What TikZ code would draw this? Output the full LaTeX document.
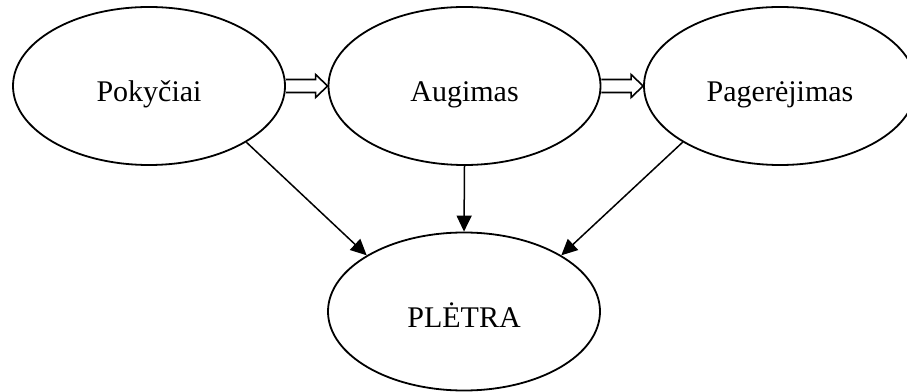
\documentclass[tikz,border=0pt]{standalone}
\usepackage{fontspec}
\setmainfont{Liberation Serif}
\usetikzlibrary{shapes.geometric,arrows.meta,calc}
\begin{document}
\begin{tikzpicture}[x=1pt,y=1pt]
  \tikzstyle{bubble}=[draw,ellipse,line width=1.8pt,minimum width=272pt,minimum height=158pt,
    inner sep=0pt,text height=36pt,text depth=4pt,font=\fontsize{30}{34}\selectfont]
  \tikzstyle{link}=[line width=1.5pt,-{Triangle[length=16pt,width=15pt]}]
  \tikzstyle{hollow}=[line width=1.6pt,line join=miter]
  \useasboundingbox (0,0) rectangle (907,391);
  \node[bubble] (pok) at (149,305) {Pokyčiai};
  \node[bubble] (aug) at (464.5,305) {Augimas};
  \node[bubble] (pag) at (780,305) {Pagerėjimas};
  \node[bubble] (ple) at (464,79.5) {PLĖTRA};
  \foreach \a/\b in {pok/aug,aug/pag}
    \draw[hollow] let \p1=(\a.east), \p2=(\b.west) in
      (\x1,\y1+6.5) -- (\x2-12,\y1+6.5) -- (\x2-12,\y1+11.5) -- (\x2,\y1)
      -- (\x2-12,\y1-11.5) -- (\x2-12,\y1-6.5) -- (\x1,\y1-6.5);
  \draw[link] (pok.-30) -- (ple.150);
  \draw[link] (aug.south) -- (ple.north);
  \draw[link] (pag.-150) -- (ple.30);
\end{tikzpicture}
\end{document}
